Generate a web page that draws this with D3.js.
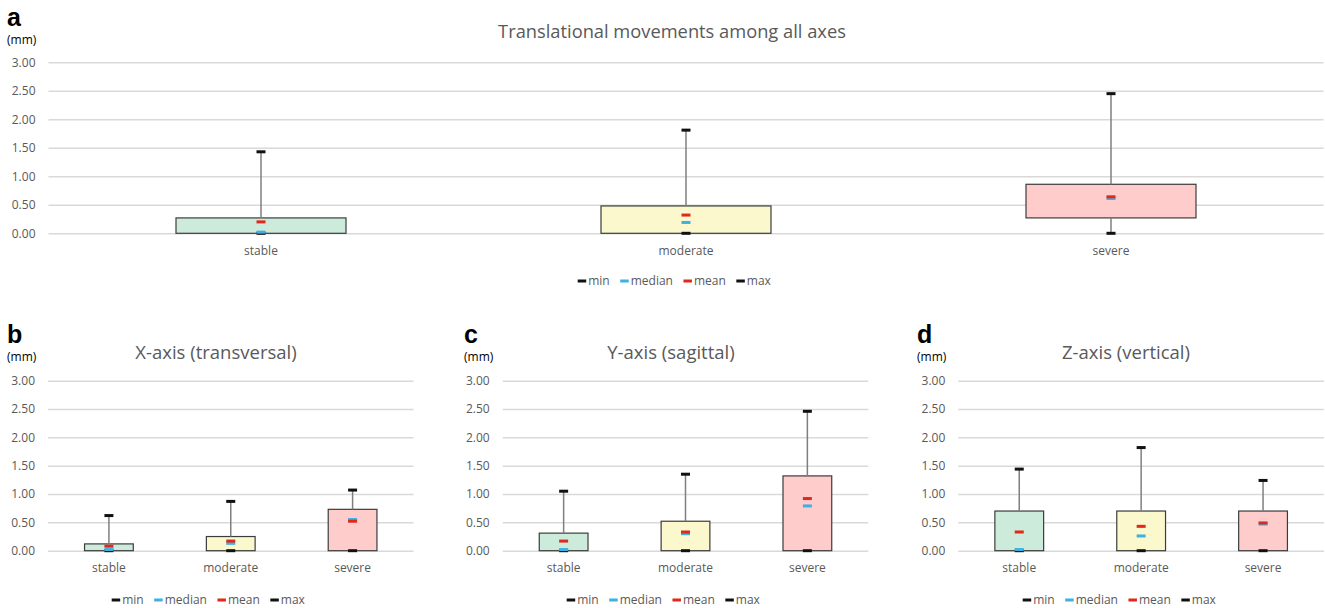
<!DOCTYPE html>
<html>
<head>
<meta charset="utf-8">
<script src="https://cdn.jsdelivr.net/npm/d3@7"></script>
<style>
  html, body { margin: 0; padding: 0; background: #fff; }
  svg { display: block; font-family: "Open Sans", "Noto Sans", sans-serif; }
</style>
</head>
<body>
<svg id="chart" width="1325" height="608"></svg>
<script>
// Groups and y-axis ticks shared by all panels
const categories = ["stable", "moderate", "severe"];
const yTicks = [0, 0.5, 1, 1.5, 2, 2.5, 3];
const legendLabels = ["min", "median", "mean", "max"];

// (a) Translational movements among all axes
const allQ1     = [0.00, 0.00, 0.27];
const allQ3     = [0.27, 0.48, 0.86];
const allMin    = [0.00, 0.00, 0.00];
const allMedian = [0.02, 0.19, 0.61];
const allMean   = [0.20, 0.32, 0.64];
const allMax    = [1.43, 1.81, 2.45];

// (b) X-axis (transversal)
const xQ1     = [0.00, 0.00, 0.00];
const xQ3     = [0.12, 0.25, 0.73];
const xMin    = [0.00, 0.00, 0.00];
const xMedian = [0.02, 0.13, 0.55];
const xMean   = [0.08, 0.17, 0.52];
const xMax    = [0.62, 0.87, 1.07];

// (c) Y-axis (sagittal)
const yQ1     = [0.00, 0.00, 0.00];
const yQ3     = [0.31, 0.52, 1.32];
const yMin    = [0.00, 0.00, 0.00];
const yMedian = [0.02, 0.30, 0.79];
const yMean   = [0.17, 0.33, 0.92];
const yMax    = [1.05, 1.35, 2.46];

// (d) Z-axis (vertical)
const zQ1     = [0.00, 0.00, 0.00];
const zQ3     = [0.70, 0.70, 0.70];
const zMin    = [0.00, 0.00, 0.00];
const zMedian = [0.02, 0.26, 0.47];
const zMean   = [0.33, 0.43, 0.49];
const zMax    = [1.44, 1.82, 1.24];

const boxFill = ["#cdebdb", "#faf8cc", "#ffcccc"];
const markColor = { min: "#111111", median: "#3db1e3", mean: "#e0281c", max: "#111111" };
const textGrey = "#595959";

const svg = d3.select("#chart");

function drawPanel(p) {
  const g = svg.append("g");
  const x = d3.scaleBand().domain(categories).range([p.left, p.right]).paddingInner(0.6).paddingOuter(0.3);
  const y = d3.scaleLinear().domain([0, 3]).range([p.bottom, p.top]);
  const bw = x.bandwidth();

  // panel letter and unit label
  g.append("text").attr("x", p.letterX).attr("y", p.letterY)
    .attr("font-family", "Liberation Sans, Arial, sans-serif").attr("font-weight", "bold")
    .attr("font-size", 25).attr("fill", "#000").text(p.letter);
  g.append("text").attr("x", p.letterX).attr("y", p.letterY + 18)
    .attr("font-size", 12).attr("fill", "#000").text("(mm)");

  // title
  g.append("text").attr("x", p.titleX).attr("y", p.titleY).attr("text-anchor", "middle")
    .attr("font-size", p.titleSize).attr("fill", textGrey).text(p.title);

  // y axis: gridlines and tick labels
  const yAxis = d3.axisLeft(y).tickValues(yTicks).tickFormat(d3.format(".2f"))
    .tickSize(-(p.right - p.left)).tickPadding(13);
  const ax = g.append("g").attr("transform", `translate(${p.left},0)`).call(yAxis);
  ax.select(".domain").remove();
  ax.selectAll(".tick line").attr("stroke", "#d9d9d9").attr("stroke-width", 1.5);
  ax.selectAll(".tick text").attr("font-size", 12).attr("fill", textGrey)
    .attr("font-family", "Open Sans, sans-serif");

  // x axis category labels
  const xAxis = d3.axisBottom(x).tickSize(0).tickPadding(13);
  const bx = g.append("g").attr("transform", `translate(0,${p.bottom})`).call(xAxis);
  bx.select(".domain").remove();
  bx.selectAll(".tick text").attr("font-size", 12).attr("fill", textGrey)
    .attr("font-family", "Open Sans, sans-serif");

  const rows = categories.map((c, i) => ({
    cat: c, i, q1: p.q1[i], q3: p.q3[i], min: p.min[i], median: p.median[i], mean: p.mean[i], max: p.max[i]
  }));
  const cx = d => x(d.cat) + bw / 2;

  // boxes (Q1 to Q3)
  g.selectAll("rect.box").data(rows).join("rect").attr("class", "box")
    .attr("x", d => x(d.cat)).attr("width", bw)
    .attr("y", d => y(d.q3)).attr("height", d => y(d.q1) - y(d.q3))
    .attr("fill", d => boxFill[d.i]).attr("stroke", "#3c3c3c").attr("stroke-width", 1.2);

  // whiskers
  g.selectAll("line.whiskHi").data(rows).join("line").attr("class", "whiskHi")
    .attr("x1", cx).attr("x2", cx).attr("y1", d => y(d.q3)).attr("y2", d => y(d.max))
    .attr("stroke", "#7f7f7f").attr("stroke-width", 1.5);
  g.selectAll("line.whiskLo").data(rows.filter(d => d.q1 > d.min)).join("line").attr("class", "whiskLo")
    .attr("x1", cx).attr("x2", cx).attr("y1", d => y(d.q1)).attr("y2", d => y(d.min))
    .attr("stroke", "#7f7f7f").attr("stroke-width", 1.5);

  // statistic markers
  ["min", "median", "mean", "max"].forEach(k => {
    g.selectAll("rect.m-" + k).data(rows).join("rect").attr("class", "m-" + k)
      .attr("x", d => cx(d) - 4.5).attr("width", 9)
      .attr("y", d => y(d[k]) - 1.5).attr("height", 3)
      .attr("fill", markColor[k]);
  });

  // legend
  let lx = p.legendX;
  legendLabels.forEach(k => {
    g.append("rect").attr("x", lx).attr("y", p.legendY - 1.5).attr("width", 8.5).attr("height", 3)
      .attr("fill", markColor[k]);
    const t = g.append("text").attr("x", lx + 10.5).attr("y", p.legendY + 4)
      .attr("font-size", 12).attr("fill", textGrey).text(k);
    lx += 10.5 + t.node().getComputedTextLength() + 10.5;
  });
}

drawPanel({
  letter: "a", letterX: 7, letterY: 26,
  title: "Translational movements among all axes", titleX: 672, titleY: 38, titleSize: 18.3,
  left: 48.5, right: 1323.5, top: 62.3, bottom: 233.3,
  legendX: 577.7, legendY: 281,
  q1: allQ1, q3: allQ3, min: allMin, median: allMedian, mean: allMean, max: allMax
});
drawPanel({
  letter: "b", letterX: 7, letterY: 343,
  title: "X-axis (transversal)", titleX: 216, titleY: 359, titleSize: 18.5,
  left: 48, right: 413.5, top: 380.7, bottom: 550.7,
  legendX: 111.7, legendY: 600,
  q1: xQ1, q3: xQ3, min: xMin, median: xMedian, mean: xMean, max: xMax
});
drawPanel({
  letter: "c", letterX: 464, letterY: 343,
  title: "Y-axis (sagittal)", titleX: 671, titleY: 359, titleSize: 18.5,
  left: 502.7, right: 868.3, top: 380.7, bottom: 550.7,
  legendX: 566.7, legendY: 600,
  q1: yQ1, q3: yQ3, min: yMin, median: yMedian, mean: yMean, max: yMax
});
drawPanel({
  letter: "d", letterX: 917, letterY: 343,
  title: "Z-axis (vertical)", titleX: 1126, titleY: 359, titleSize: 18.5,
  left: 958.3, right: 1324, top: 380.7, bottom: 550.7,
  legendX: 1022.7, legendY: 600,
  q1: zQ1, q3: zQ3, min: zMin, median: zMedian, mean: zMean, max: zMax
});
</script>
</body>
</html>
